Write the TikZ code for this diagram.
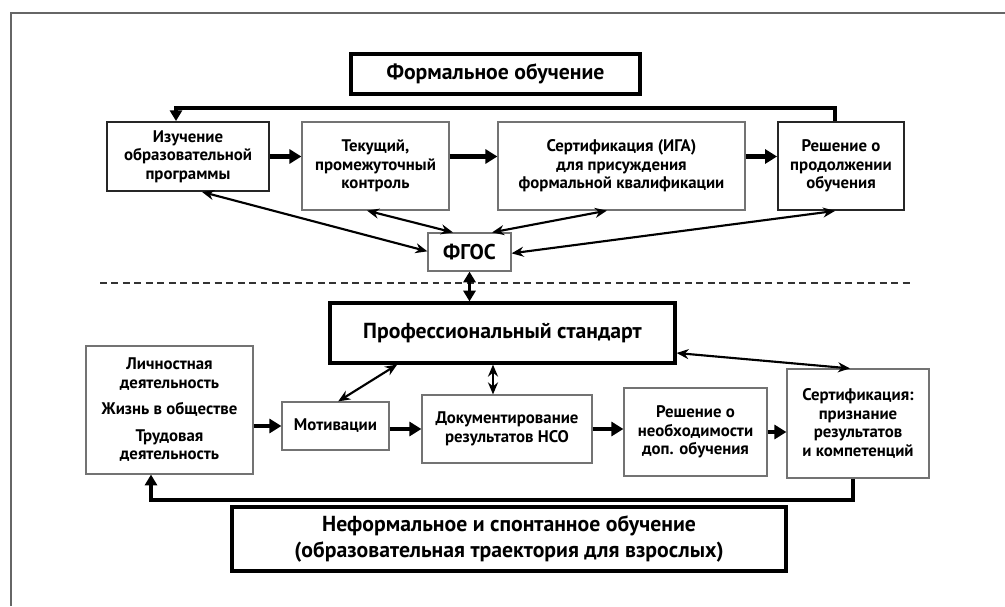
\documentclass[tikz,border=0pt]{standalone}
\usepackage{fontspec}
\setmainfont{PT Sans}
\usetikzlibrary{arrows.meta,calc}
\begin{document}
\begin{tikzpicture}[x=0.75pt,y=-0.75pt,
  every node/.style={font=\bfseries\fontsize{12.6}{13.9}\selectfont, align=center, inner sep=0pt},
  thinbox/.style={draw=black!55, line width=0.9pt, rectangle},
  midbox/.style={draw=black!85, line width=1.4pt, rectangle},
  bigbox/.style={draw=black, line width=2.4pt, rectangle, font=\bfseries\fontsize{16.3}{18.8}\selectfont},
  flow/.style={line width=3.2pt, -{Triangle[length=9pt,width=10.5pt]}},
  loopline/.style={line width=2.3pt, -{Triangle[length=8pt,width=9pt]}},
  twoway/.style={line width=1.6pt, {Stealth[length=9pt,width=7.5pt]}-{Stealth[length=9pt,width=7.5pt]}},
  thickway/.style={line width=2.4pt, {Triangle[length=8pt,width=9pt]}-{Triangle[length=8pt,width=9pt]}}
]
\useasboundingbox (0,0) rectangle (1005,606);
\fill[white] (0,0) rectangle (1005,606);
% outer frame
\draw[black!60, line width=0.9pt] (11,606) -- (11,13) -- (1005,13);

% top part
\node[bigbox, minimum width=216.75pt, minimum height=30pt] (form) at (495.5,74) {Формальное обучение};
\node[midbox, minimum width=121.5pt, minimum height=51.75pt] (iz) at (188,156.5) {Изучение\\образовательной\\программы};
\node[thinbox, minimum width=110.25pt, minimum height=66pt] (tek) at (375.5,166) {Текущий,\\промежуточный\\контроль};
\node[thinbox, minimum width=185.25pt, minimum height=66pt] (ser) at (621.5,166) {Сертификация (ИГА)\\для присуждения\\формальной квалификации};
\node[midbox, minimum width=94.5pt, minimum height=66pt] (resh) at (841,166) {Решение о\\продолжении\\обучения};
\node[thinbox, font=\bfseries\fontsize{16}{18}\selectfont, minimum width=62.25pt, minimum height=28.5pt] (fg) at (469.5,252) {ФГОС};

\draw[flow] (iz.east) -- (iz.east -| tek.west);
\draw[flow] (tek.east |- iz.east) -- (ser.west |- iz.east);
\draw[flow] (ser.east |- iz.east) -- (resh.west |- iz.east);

\coordinate (tlr) at (835,108);
\coordinate (tll) at (176,108);
\draw[loopline] (tlr |- resh.north) -- (tlr) -- (tll) -- (tll |- iz.north);

\draw[twoway] ([yshift=0.5pt]fg.west) -- ([xshift=10.5pt]iz.south);
\draw[twoway] ([xshift=-12.4pt]fg.north) -- ([xshift=-6.4pt]tek.south);
\draw[twoway] ([xshift=16.9pt]fg.north) -- ([xshift=-10.9pt]ser.south);
\draw[twoway] ([yshift=-1pt]fg.east) -- ([xshift=-4.5pt]resh.south);

% dashed separator
\coordinate (dl) at (100,283);
\coordinate (dr) at (913,283);
\draw[line width=1.1pt, dash pattern=on 5.2pt off 3.4pt, black!80] (dl) -- (dr);

% bottom part
\node[bigbox, minimum width=258.75pt, minimum height=45pt] (prof) at (502.5,333) {Профессиональный стандарт};
\node[thinbox, minimum width=125.25pt, minimum height=96pt] (lich) at (169.5,410) {Личностная\\деятельность\\[6pt]Жизнь в обществе\\[6pt]Трудовая\\деятельность};
\node[thinbox, minimum width=80.25pt, minimum height=36pt] (mot) at (335.5,426) {Мотивации};
\node[thinbox, minimum width=127.5pt, minimum height=51pt] (dok) at (507,429) {Документирование\\результатов НСО};
\node[thinbox, minimum width=107.25pt, minimum height=66pt] (rn) at (695.5,432) {Решение о\\необходимости\\доп. обучения};
\node[thinbox, minimum width=106.5pt, minimum height=81.75pt] (sp) at (858,423.5) {Сертификация:\\признание\\результатов\\и компетенций};
\node[bigbox, minimum width=415.5pt, minimum height=48pt] (nef) at (509,539) {Неформальное и спонтанное обучение\\(образовательная траектория для взрослых)};

\draw[thickway] (fg.south) -- (fg.south |- prof.north);

\draw[flow] (lich.east |- mot.west) -- (mot.west);
\draw[flow] (mot.east |- dok.west) -- (dok.west);
\draw[flow] (dok.east) -- (dok.east -| rn.west);
\draw[flow] (rn.east) -- (rn.east -| sp.west);

\draw[twoway] ([xshift=2pt]mot.north) -- ([xshift=-79pt]prof.south);
\draw[twoway] ([xshift=-10.5pt]dok.north |- prof.south) -- ([xshift=-10.5pt]dok.north);
\draw[twoway] ([yshift=-15pt]prof.east) -- ([xshift=-6pt]sp.north);

\coordinate (blr) at (853,500);
\coordinate (bll) at (151,500);
\draw[loopline] (blr |- sp.south) -- (blr) -- (bll) -- (bll |- lich.south);
\end{tikzpicture}
\end{document}
